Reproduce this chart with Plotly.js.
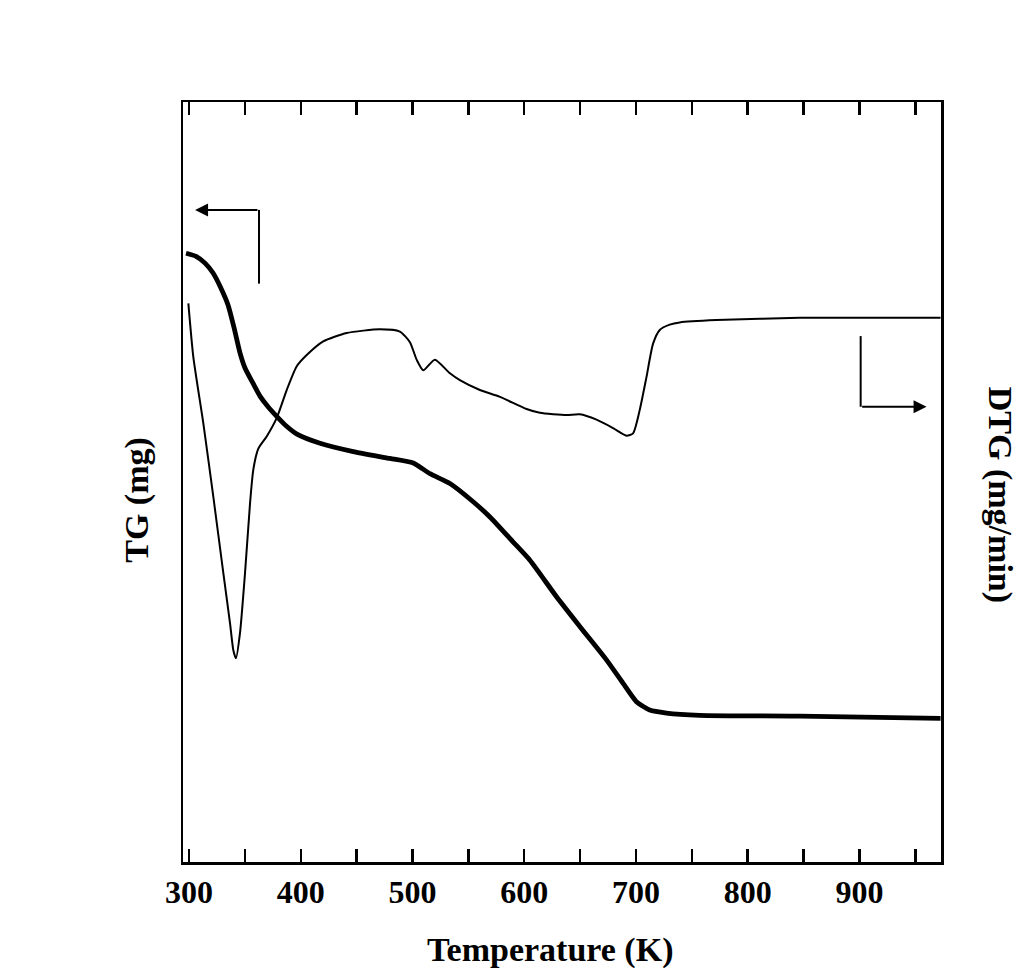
<!DOCTYPE html>
<html>
<head>
<meta charset="utf-8">
<script src="https://cdn.plot.ly/plotly-3.0.1.min.js"></script>
<style>
  html, body { margin: 0; padding: 0; background: #fff; }
  #chart { width: 1031px; height: 976px; }
</style>
</head>
<body>
<div id="chart"></div>
<script>
// Temperature (K) and TG (arbitrary mg units)
const tgTemp = [297.3, 306.3, 314.3, 321.5, 328.6, 334.9, 340.3, 345.6, 350.1, 357.2, 363.5, 370.7, 378.7, 386.8, 396.6, 417.2, 447.0, 479.8, 500.6, 515.6, 533.5, 554.3, 569.3, 590.1, 605.1, 628.9, 649.7, 673.6, 688.5, 700.4, 712.3, 727.3, 757.0, 846.5, 972.6];
const tgValue = [80.1, 79.7, 78.8, 77.5, 75.5, 73.3, 70.3, 67.0, 65.0, 63.0, 61.3, 59.9, 58.6, 57.4, 56.3, 55.1, 54.0, 53.1, 52.5, 51.1, 49.8, 47.4, 45.4, 42.1, 39.7, 34.9, 31.0, 26.6, 23.5, 21.1, 20.0, 19.6, 19.3, 19.2, 18.9];

// Temperature (K) and DTG (arbitrary mg/min units)
const dtgTemp = [299.4, 303.8, 312.8, 321.7, 330.7, 336.7, 339.6, 342.0, 345.6, 350.1, 354.6, 357.5, 362.0, 369.5, 378.4, 387.4, 396.3, 405.3, 420.1, 441.1, 470.8, 488.7, 497.7, 503.7, 509.6, 520.0, 533.5, 542.4, 560.3, 578.2, 602.1, 614.0, 637.8, 649.7, 664.7, 679.5, 691.5, 697.4, 703.4, 709.4, 715.3, 721.3, 730.2, 739.2, 772.0, 846.5, 972.6];
const dtgValue = [73.5, 66.5, 57.7, 48.1, 38.0, 31.4, 27.9, 26.8, 30.1, 38.0, 47.2, 51.6, 54.4, 56.0, 58.4, 62.1, 65.2, 66.7, 68.5, 69.6, 70.1, 69.8, 68.4, 66.1, 64.7, 66.1, 64.3, 63.4, 62.1, 61.2, 59.6, 59.1, 58.8, 58.9, 58.2, 57.1, 56.1, 56.4, 59.5, 63.8, 68.2, 70.0, 70.7, 71.0, 71.3, 71.6, 71.6];

const xTickVals = [300, 400, 500, 600, 700, 800, 900];
const xTickText = ['300', '400', '500', '600', '700', '800', '900'];

const font = 'Liberation Serif, Times New Roman, serif';

const traces = [
  { x: tgTemp, y: tgValue, type: 'scatter', mode: 'lines', name: 'TG',
    line: { color: '#000', width: 4.8, shape: 'spline', smoothing: 0.6 }, yaxis: 'y' },
  { x: dtgTemp, y: dtgValue, type: 'scatter', mode: 'lines', name: 'DTG',
    line: { color: '#000', width: 2, shape: 'spline', smoothing: 0.6 }, yaxis: 'y2' }
];

const layout = {
  width: 1031, height: 976,
  margin: { l: 183, r: 90, t: 102, b: 114 },
  paper_bgcolor: '#fff', plot_bgcolor: '#fff',
  showlegend: false,
  font: { family: font, color: '#000' },
  xaxis: {
    range: [294.6, 973.0],
    tickvals: xTickVals, ticktext: xTickText,
    ticks: 'inside', ticklen: 13, tickwidth: 2.5, tickcolor: '#000',
    minor: { dtick: 50, tick0: 0, ticks: 'inside', ticklen: 7, tickwidth: 2.5, tickcolor: '#000' },
    showline: true, linewidth: 2.5, linecolor: '#000', mirror: 'allticks',
    showgrid: false, zeroline: false,
    tickfont: { family: font, size: 32, weight: 'bold' }
  },
  yaxis: {
    range: [0, 100],
    showticklabels: false, ticks: '',
    showline: true, linewidth: 2.5, linecolor: '#000', mirror: true,
    showgrid: false, zeroline: false
  },
  yaxis2: {
    range: [0, 100], overlaying: 'y', side: 'right',
    showticklabels: false, ticks: '', showline: false,
    showgrid: false, zeroline: false
  },
  annotations: [
    { xref: 'paper', yref: 'paper', x: 0.484, y: -0.116, text: '<b>Temperature (K)</b>',
      showarrow: false, font: { family: font, size: 34, color: '#000' },
      xanchor: 'center', yanchor: 'middle' },
    { xref: 'paper', yref: 'paper', x: -0.06, y: 0.476, text: '<b>TG (mg)</b>',
      textangle: -90, showarrow: false, font: { family: font, size: 34, color: '#000' },
      xanchor: 'center', yanchor: 'middle' },
    { xref: 'paper', yref: 'paper', x: 1.078, y: 0.483, text: '<b>DTG (mg/min)</b>',
      textangle: 90, showarrow: false, font: { family: font, size: 34, color: '#000' },
      xanchor: 'center', yanchor: 'middle' },
    { xref: 'x', yref: 'y', x: 305.4, y: 85.8, ax: 362.6, ay: 85.8, axref: 'x', ayref: 'y',
      text: '', showarrow: true, arrowhead: 2, arrowsize: 1.3, arrowwidth: 2, arrowcolor: '#000' },
    { xref: 'x', yref: 'y', x: 960.1, y: 59.9, ax: 901.1, ay: 59.9, axref: 'x', ayref: 'y',
      text: '', showarrow: true, arrowhead: 2, arrowsize: 1.3, arrowwidth: 2, arrowcolor: '#000' }
  ],
  shapes: [
    { type: 'line', xref: 'x', yref: 'y', x0: 362.6, x1: 362.6, y0: 85.8, y1: 76.1,
      line: { color: '#000', width: 2 } },
    { type: 'line', xref: 'x', yref: 'y', x0: 901.1, x1: 901.1, y0: 69.2, y1: 59.9,
      line: { color: '#000', width: 2 } }
  ]
};

Plotly.newPlot('chart', traces, layout, { displayModeBar: false, staticPlot: true });
</script>
</body>
</html>
